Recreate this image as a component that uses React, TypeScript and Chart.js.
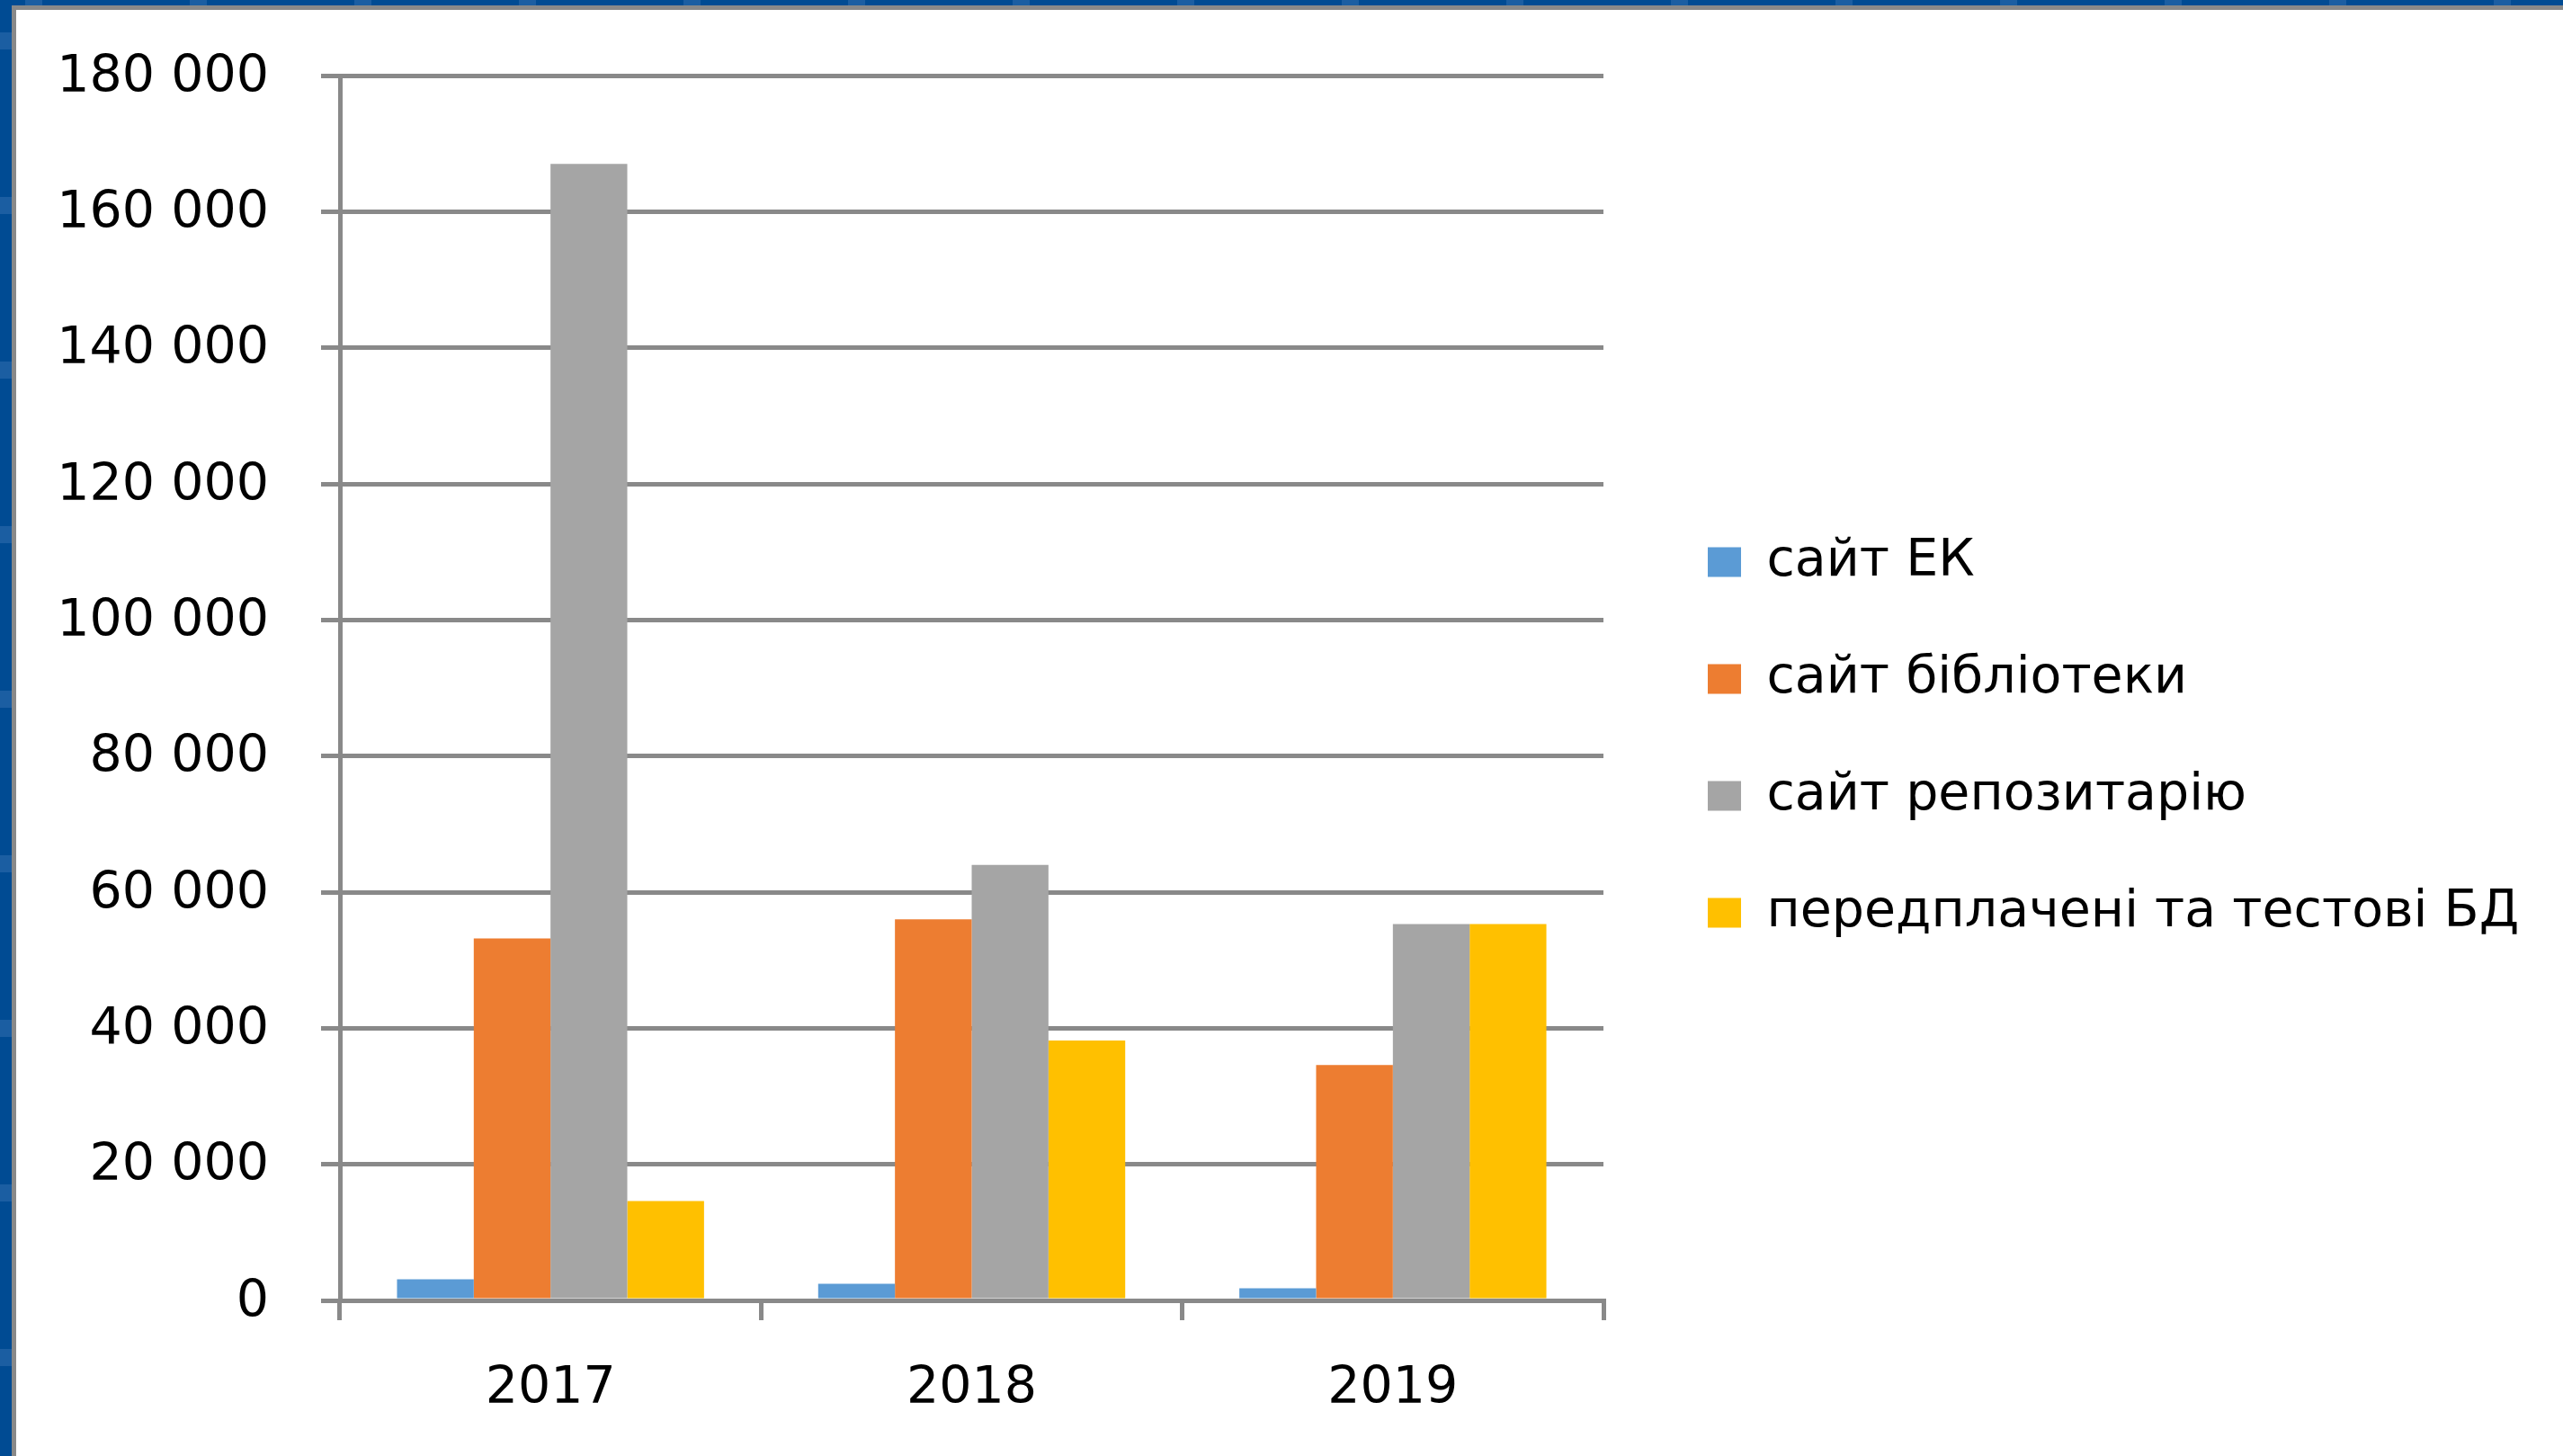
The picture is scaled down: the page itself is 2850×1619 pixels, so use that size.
import React, { useEffect, useRef } from 'react';
import { Chart, registerables } from 'chart.js';

Chart.register(...registerables);

// ---- data ----
const categories = ['2017', '2018', '2019'];
const seriesNames = ['сайт ЕК', 'сайт бібліотеки', 'сайт репозитарію', 'передплачені та тестові БД'];
const siteEK = [3100, 2450, 1800];
const siteLibrary = [53200, 56000, 34600];
const siteRepository = [167000, 64000, 55300];
const subscribedDB = [14600, 38200, 55300];
const seriesColors = ['#5B9BD5', '#ED7D31', '#A5A5A5', '#FFC000'];
const yMin = 0;
const yMax = 180000;
const yStep = 20000;

// ---- layout / style constants ----
const W = 2850;
const H = 1619;
const FONT_FAMILY = '"DejaVu Sans", sans-serif';
const FONT_SIZE = 57;
const AXIS_COLOR = '#898989';
const PLOT_LEFT = 378;
const PLOT_RIGHT = 1783;
const PAD_TOP = 84;
const X_AXIS_H = 150;
const PLOT_BOTTOM = 1446;
const LEGEND_ITEM_GAP = 130;
const LEGEND_PAD = LEGEND_ITEM_GAP - FONT_SIZE;
const LEGEND_BOX_W = 37;
const LEGEND_BOX_H = 33;
const LEGEND_BOX_X = 1899;
const LEGEND_FIRST_Y = 625;

function formatThousands(v: number): string {
  if (v < 1000) return String(v);
  const th = Math.floor(v / 1000);
  const rest = String(v % 1000).padStart(3, '0');
  return `${th} ${rest}`;
}

export default function App() {
  const canvasRef = useRef<HTMLCanvasElement | null>(null);

  useEffect(() => {
    const canvas = canvasRef.current;
    if (!canvas) return;

    const mctx = document.createElement('canvas').getContext('2d')!;
    mctx.font = `normal ${FONT_SIZE}px ${FONT_FAMILY}`;
    const tw = Math.max(...seriesNames.map((s) => mctx.measureText(s).width));
    const legendW = LEGEND_PAD + LEGEND_BOX_W + FONT_SIZE / 2 + tw + 10;
    const padRight = Math.max(0, W - PLOT_RIGHT - legendW);
    const padBottom = H - PLOT_BOTTOM - X_AXIS_H;

    const font = { family: FONT_FAMILY, size: FONT_SIZE };
    const values = [siteEK, siteLibrary, siteRepository, subscribedDB];

    const legendShift = {
      id: 'legendShift',
      afterLayout(chart: any) {
        const lg = chart.legend;
        if (!lg) return;
        const dx = LEGEND_BOX_X - LEGEND_PAD - lg.left;
        lg.left += dx;
        lg.right += dx;
        const itemH = FONT_SIZE;
        const n = seriesNames.length;
        const targetY = LEGEND_FIRST_Y - itemH / 2;
        const sum = 2 * targetY - LEGEND_PAD + n * (itemH + LEGEND_PAD);
        const dy = (sum - lg.top - lg.bottom) / 2;
        lg.top += dy;
        lg.bottom += dy;
      },
    };

    const chart = new Chart(canvas, {
      type: 'bar',
      data: {
        labels: categories,
        datasets: seriesNames.map((name, i) => ({
          label: name,
          data: values[i],
          backgroundColor: seriesColors[i],
          borderWidth: 0,
          barPercentage: 1,
          categoryPercentage: 0.729,
        })),
      },
      options: {
        responsive: false,
        maintainAspectRatio: false,
        animation: false,
        layout: {
          padding: { top: PAD_TOP, bottom: padBottom, left: 0, right: padRight },
        },
        scales: {
          x: {
            ticks: { padding: 43, color: '#000', font },
            grid: {
              drawOnChartArea: false,
              drawTicks: true,
              tickLength: 22,
              color: AXIS_COLOR,
              lineWidth: 5,
              offset: true,
            },
            border: { display: true, color: AXIS_COLOR, width: 5 },
            afterFit(scale: any) {
              scale.height = X_AXIS_H;
            },
          },
          y: {
            min: yMin,
            max: yMax,
            ticks: {
              stepSize: yStep,
              padding: 58,
              labelOffset: 3,
              color: '#000',
              font,
              callback: (v: any) => formatThousands(Number(v)),
            },
            grid: { color: AXIS_COLOR, lineWidth: 5, tickLength: 21, drawTicks: true },
            border: { display: true, color: AXIS_COLOR, width: 5 },
            afterFit(scale: any) {
              scale.width = PLOT_LEFT;
              scale.paddingTop = FONT_SIZE * 0.6;
              scale.paddingBottom = FONT_SIZE * 0.6;
            },
          },
        },
        plugins: {
          legend: {
            position: 'right',
            maxWidth: 1400,
            labels: {
              boxWidth: LEGEND_BOX_W,
              boxHeight: LEGEND_BOX_H,
              padding: LEGEND_PAD,
              color: '#000',
              font,
            },
          },
          tooltip: { enabled: false },
        },
      },
      plugins: [legendShift],
    } as any);

    return () => chart.destroy();
  }, []);

  return (
    <div
      style={{
        position: 'absolute',
        left: 0,
        top: 0,
        width: W,
        height: H,
        background: '#ffffff',
        overflow: 'hidden',
      }}
    >
      <canvas
        ref={canvasRef}
        width={W}
        height={H}
        style={{ position: 'absolute', left: 0, top: 0, width: W, height: H }}
      />
      <div
        style={{
          position: 'absolute',
          left: 0,
          top: 0,
          width: W,
          height: 6,
          background:
            'repeating-linear-gradient(to right, #004B93 0px, #004B93 28px, #1B5EA2 28px, #1B5EA2 47px, #004B93 47px, #004B93 183px)',
        }}
      />
      <div
        style={{
          position: 'absolute',
          left: 0,
          top: 0,
          width: 13,
          height: H,
          background:
            'repeating-linear-gradient(to bottom, #004B93 0px, #004B93 36px, #1B5EA2 36px, #1B5EA2 55px, #004B93 55px, #004B93 183px)',
        }}
      />
      <div style={{ position: 'absolute', left: 13, top: 6, width: W - 13, height: 5, background: AXIS_COLOR }} />
      <div style={{ position: 'absolute', left: 13, top: 6, width: 5, height: H - 6, background: AXIS_COLOR }} />
    </div>
  );
}
